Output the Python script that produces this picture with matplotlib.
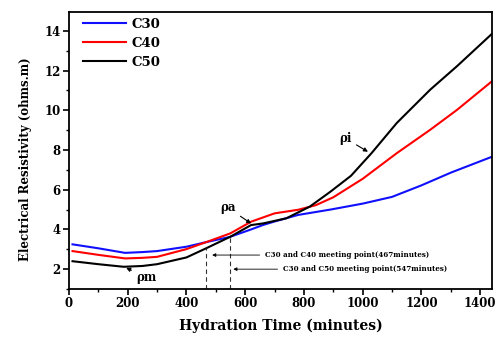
import matplotlib
matplotlib.use("Agg")
import matplotlib.pyplot as plt
from matplotlib.ticker import MultipleLocator

# ---- data ----
x_c30 = [12, 100, 191, 250, 300, 400, 467, 547, 620, 660, 700, 780, 890, 1000, 1100, 1200, 1300, 1440]
y_c30 = [3.25, 3.05, 2.82, 2.86, 2.91, 3.13, 3.36, 3.62, 4.00, 4.22, 4.40, 4.73, 5.00, 5.30, 5.64, 6.22, 6.86, 7.66]

x_c40 = [12, 100, 191, 250, 300, 400, 467, 549, 620, 700, 780, 840, 900, 1000, 1116, 1230, 1321, 1440]
y_c40 = [2.91, 2.72, 2.54, 2.57, 2.62, 3.01, 3.36, 3.80, 4.39, 4.81, 4.99, 5.22, 5.62, 6.55, 7.84, 9.02, 10.02, 11.46]

x_c50 = [12, 100, 186, 250, 300, 400, 467, 549, 620, 660, 740, 820, 890, 960, 1030, 1116, 1230, 1321, 1440]
y_c50 = [2.40, 2.25, 2.12, 2.16, 2.25, 2.59, 3.05, 3.63, 4.22, 4.30, 4.56, 5.15, 5.90, 6.70, 7.84, 9.36, 11.04, 12.22, 13.85]

series_names = ["C30", "C40", "C50"]
series_colors = ["#1010ff", "#ff0000", "#000000"]

meet_c30_c40 = 467
meet_c30_c50 = 547
meet_c30_c40_y = 3.05
meet_c30_c50_y = 3.63

x_ticks = [0, 200, 400, 600, 800, 1000, 1200, 1400]
y_ticks = [2, 4, 6, 8, 10, 12, 14]

serif = ["DejaVu Serif"]
plt.rcParams["font.family"] = serif
plt.rcParams["font.weight"] = "bold"

fig = plt.figure(figsize=(4.97, 3.37), dpi=100)
ax = fig.add_axes([0.1388, 0.1424, 0.851, 0.822])

for xs, ys, name, col in zip([x_c30, x_c40, x_c50], [y_c30, y_c40, y_c50],
                             series_names, series_colors):
    ax.plot(xs, ys, color=col, lw=1.5, label=name)

ax.set_xlim(0, 1440)
ax.set_ylim(1, 14.95)
ax.set_xticks(x_ticks)
ax.set_yticks(y_ticks)
ax.xaxis.set_minor_locator(MultipleLocator(100))
ax.yaxis.set_minor_locator(MultipleLocator(1))
ax.tick_params(which="major", direction="out", length=4, width=1.2, labelsize=8.5, pad=2)
ax.tick_params(which="minor", direction="out", length=2.5, width=1.0)
for lab in ax.get_xticklabels() + ax.get_yticklabels():
    lab.set_fontweight("bold")
for sp in ax.spines.values():
    sp.set_linewidth(1.3)

ax.set_xlabel("Hydration Time (minutes)", fontsize=10, fontweight="bold", labelpad=6)
ax.set_ylabel("Electrical Resistivity (ohms.m)", fontsize=8.5, fontweight="bold")
ax.yaxis.set_label_coords(-0.088, 0.469)

leg = ax.legend(loc="upper left", bbox_to_anchor=(0.018, 1.0), frameon=False, handlelength=3.3,
                borderaxespad=0.15, borderpad=0.3, labelspacing=0.45, handletextpad=0.4,
                prop={"weight": "bold", "size": 9.5})

# dashed lines at meeting points
ax.vlines([meet_c30_c40, meet_c30_c50], 1, [meet_c30_c40_y, meet_c30_c50_y],
          colors="#333333", linestyles=(0, (4, 3)), lw=0.8)

ap = dict(arrowstyle="-|>", color="black", lw=0.6, mutation_scale=5)
ax.annotate("C30 and C40 meeting point(467minutes)", xy=(478, 2.71), xytext=(668, 2.71),
            fontsize=5.1, fontweight="bold", va="center", ha="left", arrowprops=ap)
ax.annotate("C30 and C50 meeting point(547minutes)", xy=(550, 2.0), xytext=(729, 2.0),
            fontsize=5.1, fontweight="bold", va="center", ha="left", arrowprops=ap)

ap2 = dict(arrowstyle="-|>", color="black", lw=0.8, mutation_scale=6)
ax.annotate("ρm", xy=(186, 2.12), xytext=(265, 1.6), fontsize=8.5, fontweight="bold",
            ha="center", va="center", arrowprops=ap2)
ax.annotate("ρa", xy=(628, 4.22), xytext=(540, 5.1), fontsize=8.5, fontweight="bold",
            ha="center", va="center", arrowprops=ap2)
ax.annotate("ρi", xy=(1026, 7.84), xytext=(940, 8.6), fontsize=8.5, fontweight="bold",
            ha="center", va="center", arrowprops=ap2)

fig.savefig("out.png", dpi=100)
